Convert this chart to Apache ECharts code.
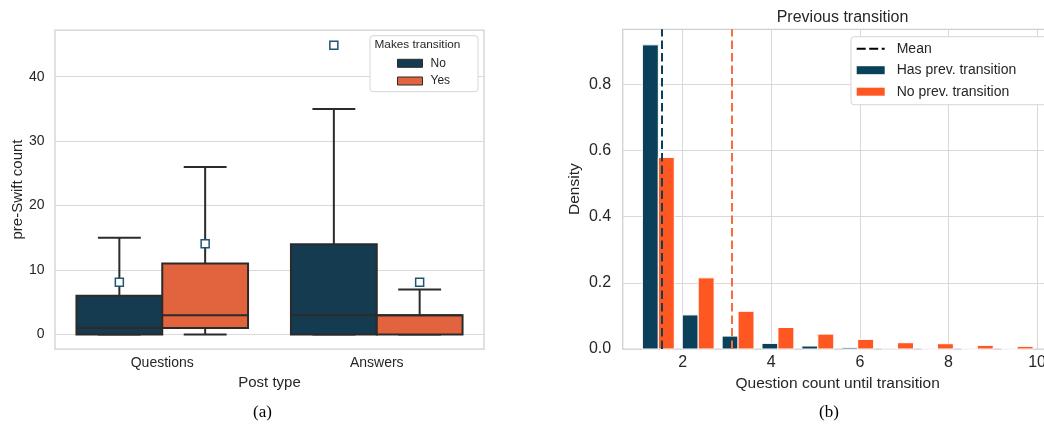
<!DOCTYPE html>
<html>
<head>
<meta charset="utf-8">
<script src="https://cdn.jsdelivr.net/npm/echarts@6/dist/echarts.min.js"></script>
<style>
html, body { margin: 0; padding: 0; background: #fff; }
#chart { width: 1044px; height: 430px; }
</style>
</head>
<body>
<div id="chart"></div>
<script>
// (a) pre-Swift activity by post type
const postTypes = ['Questions', 'Answers'];
const transitionGroups = ['No', 'Yes'];
// box statistics per post type: [lower whisker, Q1, median, Q3, upper whisker]
const statsNo = [[0, 0, 1, 6, 15], [0, 0, 3, 14, 35]];
const statsYes = [[0, 1, 3, 11, 26], [0, 0, 3, 3, 7]];
const meansNo = [8.1, 44.9];
const meansYes = [14.1, 8.1];
const countTicks = [0, 10, 20, 30, 40];

// (b) questions asked before the transition
const binEdges = [1, 1.9, 2.8, 3.7, 4.6, 5.5, 6.4, 7.3, 8.2, 9.1, 10];
const densityHasPrev = [0.919, 0.103, 0.039, 0.017, 0.009, 0.004, 0.002, 0, 0, 0];
const densityNoPrev = [0.579, 0.215, 0.114, 0.065, 0.045, 0.029, 0.019, 0.016, 0.011, 0.008];
const meanHasPrev = 1.52;
const meanNoPrev = 3.11;
const questionTicks = [2, 4, 6, 8, 10];
const densityTicks = [0, 0.2, 0.4, 0.6, 0.8];

const FONT = '"Liberation Sans", Arial, sans-serif';
const TEXT = '#262626';
const GRID_LINE = '#d9d9d9';
const FRAME = '#cfcfcf';
const BOX_EDGE = '#2b2b2b';
const NO_COLOR = '#153b50';
const YES_COLOR = '#e2643e';
const HAS_COLOR = '#0b405b';
const NOPREV_COLOR = '#ff5722';
const NOPREV_MEAN = '#fb6a40';
// dashed-line legend glyph (28 x 8 box, 2px dashes)
const DASH_ICON = 'path://M0,0M28,8M0,3h9v2h-9z M12.5,3h9v2h-9z M25,3h3v2h-3z';

const chart = echarts.init(document.getElementById('chart'), null, { renderer: 'canvas' });

function boxData(stats, means) {
  return stats.map((s, i) => [i].concat(s, [means[i]]));
}

// draws one hue level of the grouped box plot; offset is the box centre in band widths
function boxRenderer(offset, fill) {
  return function (params, api) {
    const band = api.size([1, 0])[0];
    const cx = api.coord([api.value(0), 0])[0] + offset * band;
    const half = 0.2 * band;
    const cap = 0.1 * band;
    const y = (v) => api.coord([api.value(0), v])[1];
    const lo = y(api.value(1)), q1 = y(api.value(2)), med = y(api.value(3));
    const q3 = y(api.value(4)), hi = y(api.value(5)), mean = y(api.value(6));
    const line = { stroke: BOX_EDGE, lineWidth: 2 };
    return {
      type: 'group',
      children: [
        { type: 'line', shape: { x1: cx, y1: hi, x2: cx, y2: q3 }, style: line },
        { type: 'line', shape: { x1: cx, y1: q1, x2: cx, y2: lo }, style: line },
        { type: 'line', shape: { x1: cx - cap, y1: hi, x2: cx + cap, y2: hi }, style: line },
        { type: 'line', shape: { x1: cx - cap, y1: lo, x2: cx + cap, y2: lo }, style: line },
        { type: 'rect', shape: { x: cx - half, y: q3, width: 2 * half, height: q1 - q3 },
          style: { fill: fill, stroke: BOX_EDGE, lineWidth: 2 } },
        { type: 'line', shape: { x1: cx - half, y1: med, x2: cx + half, y2: med }, style: line },
        { type: 'rect', shape: { x: cx - 4, y: mean - 4, width: 8, height: 8 },
          style: { fill: '#ffffff', stroke: '#1f5673', lineWidth: 1.5 } }
      ]
    };
  };
}

// histogram bars dodged inside each bin (shrink 0.8)
function dodgedBars(densities, side) {
  return densities.map((d, i) => {
    const lo = binEdges[i], hi = binEdges[i + 1];
    const c = (lo + hi) / 2, w = (hi - lo) * 0.8;
    const x0 = side < 0 ? c - w / 2 : c;
    return [x0, x0 + w / 2, d];
  });
}

function barRenderer(fill) {
  return function (params, api) {
    const p0 = api.coord([api.value(0), api.value(2)]);
    const p1 = api.coord([api.value(1), 0]);
    return {
      type: 'rect',
      shape: { x: p0[0], y: p0[1], width: p1[0] - p0[0], height: p1[1] - p0[1] },
      style: { fill: fill, stroke: '#ffffff', lineWidth: 1 }
    };
  };
}

const tickText = { color: TEXT, fontFamily: FONT };

const option = {
  animation: false,
  backgroundColor: '#ffffff',
  textStyle: { fontFamily: FONT, color: TEXT },
  title: {
    text: 'Previous transition',
    left: 837.5,
    top: 5,
    textAlign: 'center',
    textStyle: { fontFamily: FONT, fontSize: 16, fontWeight: 'normal', color: TEXT }
  },
  grid: [
    { left: 55, top: 30, width: 429, height: 319, show: true, borderColor: FRAME, borderWidth: 1.25,
      backgroundColor: '#ffffff', outerBoundsMode: 'none', containLabel: false },
    { left: 622.7, top: 29.3, width: 429.9, height: 319.7, show: true, borderColor: FRAME, borderWidth: 1.25,
      backgroundColor: '#ffffff', outerBoundsMode: 'none', containLabel: false }
  ],
  xAxis: [
    {
      gridIndex: 0, type: 'category', data: postTypes,
      axisLine: { show: false }, axisTick: { show: false }, splitLine: { show: false },
      axisLabel: Object.assign({ fontSize: 14, margin: 7 }, tickText),
      name: 'Post type', nameLocation: 'middle', nameGap: 25,
      nameTextStyle: { fontSize: 15, color: TEXT, fontFamily: FONT }
    },
    {
      gridIndex: 1, type: 'value', min: 0.646, max: 10.35,
      axisLine: { show: false },
      axisTick: { show: false, customValues: questionTicks },
      axisLabel: Object.assign({ fontSize: 16, margin: 6, customValues: questionTicks }, tickText),
      splitLine: { show: true, lineStyle: { color: GRID_LINE, width: 1 } },
      name: 'Question count until transition', nameLocation: 'middle', nameGap: 27,
      nameTextStyle: { fontSize: 15.5, color: TEXT, fontFamily: FONT }
    }
  ],
  yAxis: [
    {
      gridIndex: 0, type: 'value', min: -2.25, max: 47.25,
      axisLine: { show: false },
      axisTick: { show: false, customValues: countTicks },
      axisLabel: Object.assign({ fontSize: 14, margin: 10.5, customValues: countTicks }, tickText),
      splitLine: { show: true, lineStyle: { color: GRID_LINE, width: 1 } },
      name: 'pre-Swift count', nameLocation: 'middle', nameGap: 30,
      nameTextStyle: { fontSize: 15, color: TEXT, fontFamily: FONT }
    },
    {
      gridIndex: 1, type: 'value', min: 0, max: 0.966,
      axisLine: { show: false },
      axisTick: { show: false, customValues: densityTicks },
      axisLabel: Object.assign({ fontSize: 16, margin: 11.5, customValues: densityTicks,
        formatter: (v) => v.toFixed(1) }, tickText),
      splitLine: { show: true, lineStyle: { color: GRID_LINE, width: 1 } },
      name: 'Density', nameLocation: 'middle', nameGap: 40,
      nameTextStyle: { fontSize: 15.5, color: TEXT, fontFamily: FONT }
    }
  ],
  legend: [
    {
      data: [
        { name: 'No', icon: 'rect', itemStyle: { borderColor: BOX_EDGE, borderWidth: 1 } },
        { name: 'Yes', icon: 'rect', itemStyle: { borderColor: BOX_EDGE, borderWidth: 1 } }
      ],
      orient: 'vertical', left: 397, top: 56.3, padding: 0, z: 20,
      itemWidth: 25, itemHeight: 8, itemGap: 3.7, selectedMode: false,
      textStyle: { fontFamily: FONT, fontSize: 12, color: TEXT, lineHeight: 14, padding: [0, 0, 0, 3] }
    },
    {
      data: [
        { name: 'Mean', icon: DASH_ICON },
        { name: 'Has prev. transition', icon: 'rect' },
        { name: 'No prev. transition', icon: 'rect' }
      ],
      orient: 'vertical', left: 851, top: 36.7, padding: [4, 200, 5, 5.7],
      backgroundColor: '#ffffff', borderColor: '#d6d6d6', borderWidth: 1, borderRadius: 3,
      itemWidth: 28, itemHeight: 8, itemGap: 5.5, selectedMode: false,
      textStyle: { fontFamily: FONT, fontSize: 14, color: TEXT, lineHeight: 16, padding: [0, 0, 0, 7] }
    }
  ],
  graphic: [
    { type: 'rect', z: 10, shape: { x: 370, y: 35.7, width: 108, height: 56, r: 3 },
      style: { fill: '#ffffff', stroke: '#d6d6d6', lineWidth: 1 } },
    { type: 'text', z: 21, x: 374.5, y: 45,
      style: { text: 'Makes transition', font: '11.8px ' + FONT, fill: TEXT, verticalAlign: 'middle' } },
    { type: 'text', x: 262.5, y: 412.5,
      style: { text: '(a)', font: '17px "Liberation Serif", "Times New Roman", serif', fill: '#000', align: 'center', verticalAlign: 'middle' } },
    { type: 'text', x: 829, y: 412.5,
      style: { text: '(b)', font: '17px "Liberation Serif", "Times New Roman", serif', fill: '#000', align: 'center', verticalAlign: 'middle' } }
  ],
  series: [
    {
      name: transitionGroups[0], type: 'custom', xAxisIndex: 0, yAxisIndex: 0,
      itemStyle: { color: NO_COLOR }, renderItem: boxRenderer(-0.2, NO_COLOR),
      data: boxData(statsNo, meansNo), z: 3
    },
    {
      name: transitionGroups[1], type: 'custom', xAxisIndex: 0, yAxisIndex: 0,
      itemStyle: { color: YES_COLOR }, renderItem: boxRenderer(0.2, YES_COLOR),
      data: boxData(statsYes, meansYes), z: 3
    },
    {
      name: 'Has prev. transition', type: 'custom', xAxisIndex: 1, yAxisIndex: 1,
      itemStyle: { color: HAS_COLOR }, renderItem: barRenderer(HAS_COLOR),
      data: dodgedBars(densityHasPrev, -1), z: 3
    },
    {
      name: 'No prev. transition', type: 'custom', xAxisIndex: 1, yAxisIndex: 1,
      itemStyle: { color: NOPREV_COLOR }, renderItem: barRenderer(NOPREV_COLOR),
      data: dodgedBars(densityNoPrev, 1), z: 3
    },
    {
      name: 'Mean', type: 'line', xAxisIndex: 1, yAxisIndex: 1, data: [], symbol: 'none', z: 5,
      lineStyle: { color: '#000000', type: [7, 3], width: 2 },
      itemStyle: { color: '#000000' },
      markLine: {
        silent: true, symbol: 'none', label: { show: false },
        lineStyle: { type: [8.5, 4], width: 2 },
        data: [
          { xAxis: meanHasPrev, lineStyle: { color: HAS_COLOR } },
          { xAxis: meanNoPrev, lineStyle: { color: NOPREV_MEAN } }
        ]
      }
    }
  ]
};

chart.setOption(option);
</script>
</body>
</html>
